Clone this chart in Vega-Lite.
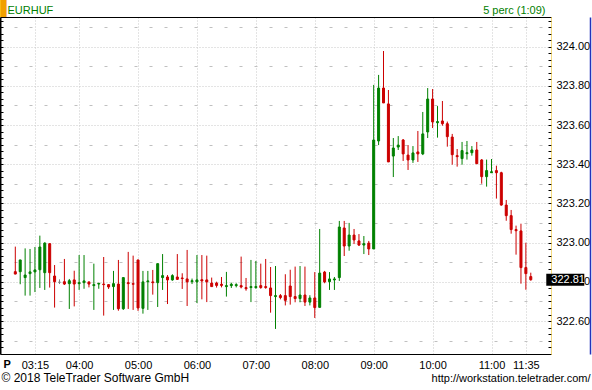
{
  "$schema": "https://vega.github.io/schema/vega-lite/v6.json",
  "width": 551,
  "height": 337,
  "autosize": {"type": "none"},
  "padding": {"left": 0, "top": 17, "right": 41, "bottom": 36},
  "background": "white",
  "config": {
    "view": {"stroke": null},
    "axis": {"labelFont": "Liberation Sans", "labelFontSize": 11, "labelColor": "black", "titleFont": "Liberation Sans", "titleFontSize": 11, "titleFontWeight": "normal", "titleColor": "black"}
  },
  "data": {
    "format": {"parse": {"t": "utc:'%H:%M'"}},
    "values": [
      {"t":"02:55","o":322.852,"h":322.980,"l":322.839,"c":322.840},
      {"t":"03:00","o":322.852,"h":322.912,"l":322.788,"c":322.912},
      {"t":"03:05","o":322.822,"h":322.971,"l":322.730,"c":322.835},
      {"t":"03:10","o":322.842,"h":322.968,"l":322.730,"c":322.851},
      {"t":"03:15","o":322.851,"h":322.978,"l":322.748,"c":322.861},
      {"t":"03:20","o":322.862,"h":323.036,"l":322.769,"c":322.978},
      {"t":"03:25","o":322.847,"h":323.002,"l":322.759,"c":322.998},
      {"t":"03:30","o":322.995,"h":322.997,"l":322.771,"c":322.847},
      {"t":"03:35","o":322.830,"h":322.886,"l":322.669,"c":322.801},
      {"t":"03:40","o":322.798,"h":322.813,"l":322.789,"c":322.798},
      {"t":"03:45","o":322.801,"h":322.917,"l":322.784,"c":322.789},
      {"t":"03:50","o":322.791,"h":322.815,"l":322.662,"c":322.806},
      {"t":"03:55","o":322.810,"h":322.857,"l":322.675,"c":322.789},
      {"t":"04:00","o":322.791,"h":322.937,"l":322.759,"c":322.796},
      {"t":"04:05","o":322.796,"h":322.937,"l":322.765,"c":322.805},
      {"t":"04:10","o":322.800,"h":322.800,"l":322.772,"c":322.789},
      {"t":"04:15","o":322.781,"h":322.893,"l":322.657,"c":322.786},
      {"t":"04:20","o":322.789,"h":322.794,"l":322.765,"c":322.793},
      {"t":"04:25","o":322.789,"h":322.927,"l":322.628,"c":322.786},
      {"t":"04:30","o":322.786,"h":322.789,"l":322.764,"c":322.774},
      {"t":"04:35","o":322.776,"h":322.856,"l":322.657,"c":322.791},
      {"t":"04:40","o":322.789,"h":322.912,"l":322.653,"c":322.663},
      {"t":"04:45","o":322.663,"h":322.822,"l":322.657,"c":322.822},
      {"t":"04:50","o":322.796,"h":322.953,"l":322.662,"c":322.791},
      {"t":"04:55","o":322.791,"h":322.934,"l":322.657,"c":322.788},
      {"t":"05:00","o":322.912,"h":322.912,"l":322.652,"c":322.667},
      {"t":"05:05","o":322.665,"h":322.856,"l":322.638,"c":322.800},
      {"t":"05:10","o":322.801,"h":322.856,"l":322.657,"c":322.805},
      {"t":"05:15","o":322.800,"h":322.861,"l":322.735,"c":322.796},
      {"t":"05:20","o":322.796,"h":322.893,"l":322.672,"c":322.893},
      {"t":"05:25","o":322.822,"h":322.942,"l":322.759,"c":322.832},
      {"t":"05:30","o":322.825,"h":322.835,"l":322.687,"c":322.810},
      {"t":"05:35","o":322.810,"h":322.839,"l":322.806,"c":322.832},
      {"t":"05:40","o":322.825,"h":322.942,"l":322.810,"c":322.813},
      {"t":"05:45","o":322.820,"h":322.844,"l":322.764,"c":322.817},
      {"t":"05:50","o":322.815,"h":322.963,"l":322.677,"c":322.800},
      {"t":"05:55","o":322.801,"h":322.817,"l":322.789,"c":322.806},
      {"t":"06:00","o":322.800,"h":322.937,"l":322.692,"c":322.810},
      {"t":"06:05","o":322.811,"h":322.937,"l":322.711,"c":322.805},
      {"t":"06:10","o":322.810,"h":322.934,"l":322.697,"c":322.800},
      {"t":"06:15","o":322.794,"h":322.822,"l":322.776,"c":322.776},
      {"t":"06:20","o":322.794,"h":322.801,"l":322.771,"c":322.782},
      {"t":"06:25","o":322.788,"h":322.825,"l":322.772,"c":322.782},
      {"t":"06:30","o":322.776,"h":322.851,"l":322.725,"c":322.781},
      {"t":"06:35","o":322.781,"h":322.796,"l":322.769,"c":322.788},
      {"t":"06:40","o":322.781,"h":322.793,"l":322.772,"c":322.786},
      {"t":"06:45","o":322.781,"h":322.929,"l":322.767,"c":322.774},
      {"t":"06:50","o":322.771,"h":322.820,"l":322.755,"c":322.765},
      {"t":"06:55","o":322.771,"h":322.912,"l":322.697,"c":322.776},
      {"t":"07:00","o":322.771,"h":322.907,"l":322.765,"c":322.776},
      {"t":"07:05","o":322.781,"h":322.893,"l":322.765,"c":322.771},
      {"t":"07:10","o":322.776,"h":322.917,"l":322.765,"c":322.771},
      {"t":"07:15","o":322.769,"h":322.876,"l":322.643,"c":322.730},
      {"t":"07:20","o":322.725,"h":322.881,"l":322.560,"c":322.730},
      {"t":"07:25","o":322.730,"h":322.738,"l":322.711,"c":322.720},
      {"t":"07:30","o":322.730,"h":322.839,"l":322.680,"c":322.706},
      {"t":"07:35","o":322.779,"h":322.862,"l":322.684,"c":322.725},
      {"t":"07:40","o":322.725,"h":322.878,"l":322.696,"c":322.715},
      {"t":"07:45","o":322.715,"h":322.881,"l":322.696,"c":322.733},
      {"t":"07:50","o":322.733,"h":322.878,"l":322.677,"c":322.697},
      {"t":"07:55","o":322.697,"h":322.732,"l":322.680,"c":322.718},
      {"t":"08:00","o":322.718,"h":322.850,"l":322.616,"c":322.669},
      {"t":"08:05","o":322.670,"h":323.070,"l":322.670,"c":322.845},
      {"t":"08:10","o":322.850,"h":322.856,"l":322.793,"c":322.800},
      {"t":"08:15","o":322.801,"h":322.850,"l":322.759,"c":322.815},
      {"t":"08:20","o":322.810,"h":322.825,"l":322.759,"c":322.815},
      {"t":"08:25","o":322.822,"h":323.111,"l":322.805,"c":323.080},
      {"t":"08:30","o":323.075,"h":323.111,"l":322.932,"c":322.983},
      {"t":"08:35","o":322.983,"h":323.101,"l":322.959,"c":323.039},
      {"t":"08:40","o":323.039,"h":323.070,"l":322.993,"c":323.014},
      {"t":"08:45","o":323.009,"h":323.044,"l":322.983,"c":322.988},
      {"t":"08:50","o":322.988,"h":323.034,"l":322.942,"c":322.995},
      {"t":"08:55","o":322.998,"h":323.009,"l":322.937,"c":322.968},
      {"t":"09:00","o":322.968,"h":323.805,"l":322.968,"c":323.524},
      {"t":"09:05","o":323.519,"h":323.856,"l":323.498,"c":323.789},
      {"t":"09:10","o":323.789,"h":323.978,"l":323.713,"c":323.713},
      {"t":"09:15","o":323.708,"h":323.779,"l":323.412,"c":323.412},
      {"t":"09:20","o":323.442,"h":323.534,"l":323.335,"c":323.483},
      {"t":"09:25","o":323.488,"h":323.544,"l":323.473,"c":323.498},
      {"t":"09:30","o":323.524,"h":323.529,"l":323.417,"c":323.453},
      {"t":"09:35","o":323.447,"h":323.498,"l":323.371,"c":323.422},
      {"t":"09:40","o":323.422,"h":323.493,"l":323.407,"c":323.458},
      {"t":"09:45","o":323.463,"h":323.570,"l":323.412,"c":323.453},
      {"t":"09:50","o":323.453,"h":323.667,"l":323.447,"c":323.555},
      {"t":"09:55","o":323.565,"h":323.789,"l":323.534,"c":323.733},
      {"t":"10:00","o":323.733,"h":323.784,"l":323.585,"c":323.616},
      {"t":"10:05","o":323.612,"h":323.697,"l":323.536,"c":323.618},
      {"t":"10:10","o":323.621,"h":323.723,"l":323.597,"c":323.607},
      {"t":"10:15","o":323.607,"h":323.618,"l":323.490,"c":323.541},
      {"t":"10:20","o":323.539,"h":323.555,"l":323.398,"c":323.449},
      {"t":"10:25","o":323.444,"h":323.478,"l":323.388,"c":323.439},
      {"t":"10:30","o":323.429,"h":323.514,"l":323.398,"c":323.470},
      {"t":"10:35","o":323.454,"h":323.519,"l":323.424,"c":323.459},
      {"t":"10:40","o":323.459,"h":323.493,"l":323.444,"c":323.473},
      {"t":"10:45","o":323.473,"h":323.514,"l":323.403,"c":323.403},
      {"t":"10:50","o":323.422,"h":323.427,"l":323.301,"c":323.337},
      {"t":"10:55","o":323.337,"h":323.424,"l":323.286,"c":323.368},
      {"t":"11:00","o":323.357,"h":323.427,"l":323.357,"c":323.362},
      {"t":"11:05","o":323.368,"h":323.393,"l":323.225,"c":323.357},
      {"t":"11:10","o":323.357,"h":323.362,"l":323.189,"c":323.192},
      {"t":"11:15","o":323.192,"h":323.218,"l":323.112,"c":323.138},
      {"t":"11:20","o":323.138,"h":323.167,"l":323.046,"c":323.067},
      {"t":"11:25","o":323.067,"h":323.087,"l":322.939,"c":323.061},
      {"t":"11:30","o":323.060,"h":323.097,"l":322.791,"c":322.873},
      {"t":"11:35","o":322.873,"h":323.000,"l":322.760,"c":322.842},
      {"t":"11:40","o":322.827,"h":322.847,"l":322.806,"c":322.811}
    ]
  },
  "resolve": {"scale": {"x": "shared", "y": "shared"}, "axis": {"x": "independent", "y": "independent"}},
  "layer": [
    {
      "mark": {"type": "rule", "strokeWidth": 1},
      "encoding": {
        "x": {"field": "t", "type": "temporal",
          "scale": {"type": "utc", "domain": [{"year": 1900, "month": 1, "date": 1, "hours": 2, "minutes": 44, "seconds": 30, "utc": true}, {"year": 1900, "month": 1, "date": 1, "hours": 11, "minutes": 55, "seconds": 30, "utc": true}]},
          "axis": {"orient": "bottom", "format": "%H:%M", "labelFlush": false, "labelOverlap": false,
            "values": [
              {"year": 1900, "month": 1, "date": 1, "hours": 3, "minutes": 15, "utc": true},
              {"year": 1900, "month": 1, "date": 1, "hours": 4, "minutes": 0, "utc": true},
              {"year": 1900, "month": 1, "date": 1, "hours": 5, "minutes": 0, "utc": true},
              {"year": 1900, "month": 1, "date": 1, "hours": 6, "minutes": 0, "utc": true},
              {"year": 1900, "month": 1, "date": 1, "hours": 7, "minutes": 0, "utc": true},
              {"year": 1900, "month": 1, "date": 1, "hours": 8, "minutes": 0, "utc": true},
              {"year": 1900, "month": 1, "date": 1, "hours": 9, "minutes": 0, "utc": true},
              {"year": 1900, "month": 1, "date": 1, "hours": 10, "minutes": 0, "utc": true},
              {"year": 1900, "month": 1, "date": 1, "hours": 11, "minutes": 0, "utc": true},
              {"year": 1900, "month": 1, "date": 1, "hours": 11, "minutes": 35, "utc": true}
            ],
            "ticks": false, "labelPadding": 5, "domainColor": "black", "domainWidth": 1,
            "grid": true, "gridColor": "#c8c8c8", "gridDash": [1, 2],
            "title": "http://workstation.teletrader.com/", "titleX": 590, "titleY": 27, "titleAlign": "right", "titleBaseline": "alphabetic"}},
        "y": {"field": "l", "type": "quantitative",
          "scale": {"domain": [322.4321, 324.1515], "nice": false, "zero": false},
          "axis": {"orient": "right", "values": [322.6, 322.8, 323.0, 323.2, 323.4, 323.6, 323.8, 324.0], "format": ".2f",
            "ticks": false, "domain": false, "labelPadding": 5,
            "grid": true, "gridColor": "#c8c8c8", "gridDash": [1, 2], "title": null}},
        "y2": {"field": "h"},
        "stroke": {"condition": [{"test": "datum.c > datum.o", "value": "#008000"}, {"test": "datum.c < datum.o", "value": "#cc0000"}], "value": "#808080"}
      }
    },
    {
      "mark": {"type": "bar", "size": 2, "strokeWidth": 1},
      "encoding": {
        "x": {"field": "t", "type": "temporal",
          "axis": {"orient": "top", "labels": false, "ticks": false, "grid": false, "domainColor": "black",
            "title": "5 perc (1:09)", "titleX": 545, "titleY": -4, "titleAlign": "right", "titleBaseline": "alphabetic", "titleColor": "#008000"}},
        "y": {"field": "o", "type": "quantitative",
          "axis": {"orient": "left", "labels": false, "grid": false, "tickSize": -3, "tickColor": "black", "domainColor": "black", "domainWidth": 2,
            "values": [324.1333, 324.1, 324.0667, 324.0333, 324, 323.9667, 323.9333, 323.9, 323.8667, 323.8333, 323.8, 323.7667, 323.7333, 323.7, 323.6667, 323.6333, 323.6, 323.5667, 323.5333, 323.5, 323.4667, 323.4333, 323.4, 323.3667, 323.3333, 323.3, 323.2667, 323.2333, 323.2, 323.1667, 323.1333, 323.1, 323.0667, 323.0333, 323, 322.9667, 322.9333, 322.9, 322.8667, 322.8333, 322.8, 322.7667, 322.7333, 322.7, 322.6667, 322.6333, 322.6, 322.5667, 322.5333, 322.5, 322.4667],
            "title": "© 2018 TeleTrader Software GmbH", "titleAngle": 0, "titleX": 1, "titleY": 364, "titleAlign": "left", "titleBaseline": "alphabetic", "titleFontSize": 12}},
        "y2": {"field": "c"},
        "fill": {"condition": [{"test": "datum.c > datum.o", "value": "#008000"}, {"test": "datum.c < datum.o", "value": "#cc0000"}], "value": "#808080"},
        "stroke": {"condition": [{"test": "datum.c > datum.o", "value": "#008000"}, {"test": "datum.c < datum.o", "value": "#cc0000"}], "value": "#808080"}
      }
    },
    {
      "mark": {"type": "rule", "strokeOpacity": 0},
      "encoding": {
        "x": {"field": "t", "type": "temporal",
          "axis": {"orient": "top", "labels": false, "ticks": false, "grid": false, "domain": false,
            "title": "EURHUF", "titleX": 7, "titleY": -4, "titleAlign": "left", "titleBaseline": "alphabetic", "titleColor": "#008000"}},
        "y": {"field": "l", "type": "quantitative",
          "axis": {"orient": "right", "labels": false, "grid": false, "tickSize": -3, "tickColor": "black", "domainColor": "#e8b400", "domainDash": [1, 1], "domainWidth": 1,
            "values": [324.1333, 324.1, 324.0667, 324.0333, 324, 323.9667, 323.9333, 323.9, 323.8667, 323.8333, 323.8, 323.7667, 323.7333, 323.7, 323.6667, 323.6333, 323.6, 323.5667, 323.5333, 323.5, 323.4667, 323.4333, 323.4, 323.3667, 323.3333, 323.3, 323.2667, 323.2333, 323.2, 323.1667, 323.1333, 323.1, 323.0667, 323.0333, 323, 322.9667, 322.9333, 322.9, 322.8667, 322.8333, 322.8, 322.7667, 322.7333, 322.7, 322.6667, 322.6333, 322.6, 322.5667, 322.5333, 322.5, 322.4667],
            "title": null}}
      }
    },
    {
      "mark": {"type": "rule", "strokeOpacity": 0},
      "encoding": {
        "x": {"field": "t", "type": "temporal", "axis": null},
        "y": {"field": "l", "type": "quantitative",
          "axis": {"orient": "left", "labels": false, "ticks": false, "domain": false,
            "values": [322.5, 322.7, 322.9, 323.1, 323.3, 323.5, 323.7, 323.9, 324.1],
            "grid": true, "gridColor": "#c0c0c0", "gridDash": [3, 12], "gridDashOffset": 1,
            "title": "P", "titleAngle": 0, "titleX": 3, "titleY": 350, "titleAlign": "left", "titleBaseline": "alphabetic", "titleFontWeight": "bold"}}
      }
    },
    {
      "mark": {"type": "rule", "strokeOpacity": 0},
      "encoding": {
        "x": {"field": "t", "type": "temporal", "axis": null},
        "y": {"field": "l", "type": "quantitative",
          "axis": {"orient": "right", "offset": 39, "labels": false, "ticks": false, "grid": false, "domainColor": "#2233bb", "domainWidth": 1.5,
            "title": "▌", "titleFont": "DejaVu Sans", "titleFontSize": 16, "titleColor": "#f0a000", "titleAngle": 0, "titleX": -590, "titleY": -4.5, "titleAlign": "left", "titleBaseline": "alphabetic"}}
      }
    },
    {
      "transform": [{"filter": "utchours(datum.t) == 11 && utcminutes(datum.t) == 40"}],
      "mark": {"type": "rect", "width": 38, "height": 12, "xOffset": 34.5, "color": "black"},
      "encoding": {
        "x": {"field": "t", "type": "temporal", "axis": null},
        "y": {"field": "c", "type": "quantitative", "axis": null}
      }
    },
    {
      "transform": [{"filter": "utchours(datum.t) == 11 && utcminutes(datum.t) == 40"}],
      "mark": {"type": "text", "align": "left", "baseline": "middle", "dx": 20.5, "fill": "white", "font": "Liberation Sans", "fontSize": 11},
      "encoding": {
        "x": {"field": "t", "type": "temporal", "axis": null},
        "y": {"field": "c", "type": "quantitative", "axis": null},
        "text": {"field": "c", "type": "quantitative", "format": ".2f"}
      }
    }
  ]
}
